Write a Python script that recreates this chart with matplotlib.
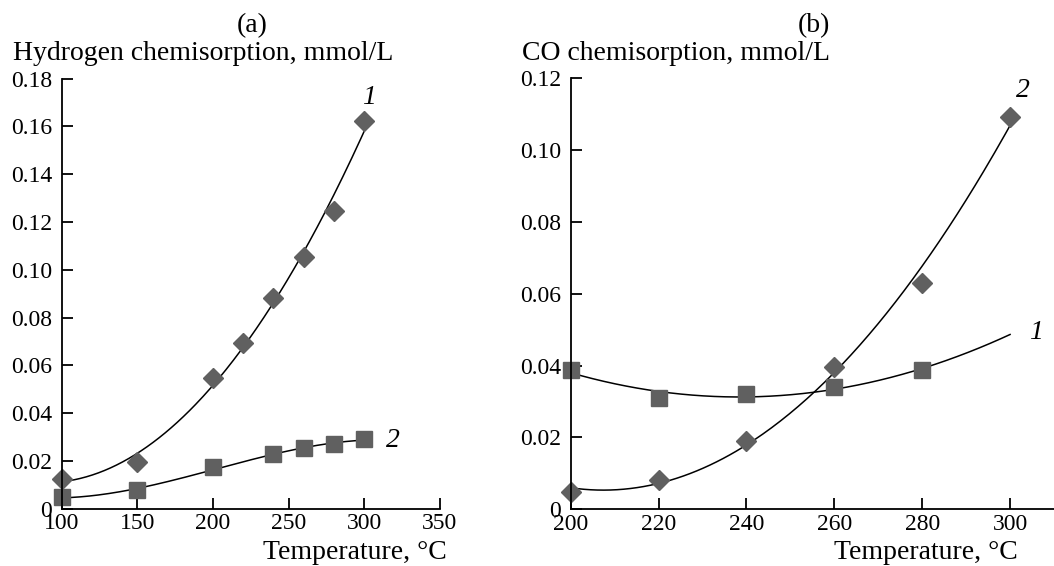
import numpy as np
import matplotlib
matplotlib.use("Agg")
import matplotlib.pyplot as plt

plt.rcParams['font.family'] = ['Liberation Serif', 'DejaVu Serif']
plt.rcParams['font.size'] = 17

# (a) водень
temp_a_1 = [100, 150, 200, 220, 240, 260, 280, 300]
h2_1 = [0.0123, 0.0197, 0.0546, 0.0695, 0.0883, 0.1055, 0.1246, 0.1624]
temp_a_2 = [100, 150, 200, 240, 260, 280, 300]
h2_2 = [0.0048, 0.0078, 0.0173, 0.0228, 0.0253, 0.0270, 0.0292]

# (b) CO
temp_b = [200, 220, 240, 260, 280, 300]
co_2 = [0.0049, 0.0083, 0.0190, 0.0395, 0.0628, 0.1091]
temp_b_1 = [200, 220, 240, 260, 280]
co_1 = [0.0387, 0.0311, 0.0320, 0.0341, 0.0387]

xticks_a = [100, 150, 200, 250, 300, 350]
yticks_a = [0, 0.02, 0.04, 0.06, 0.08, 0.10, 0.12, 0.14, 0.16, 0.18]
yticklabels_a = ['0', '0.02', '0.04', '0.06', '0.08', '0.10', '0.12', '0.14', '0.16', '0.18']
xticks_b = [200, 220, 240, 260, 280, 300]
yticks_b = [0, 0.02, 0.04, 0.06, 0.08, 0.10, 0.12]
yticklabels_b = ['0', '0.02', '0.04', '0.06', '0.08', '0.10', '0.12']

gray = '#606060'
big = 20


def trend(x, y, deg, x_end=None):
    # лінія тренду як у Excel
    c = np.polyfit(x, y, deg)
    xs = np.linspace(min(x), x_end if x_end else max(x), 200)
    return xs, np.polyval(c, xs)


def style(ax):
    for s in ['top', 'right']:
        ax.spines[s].set_visible(False)
    for s in ['left', 'bottom']:
        ax.spines[s].set_linewidth(1.3)
    ax.tick_params(direction='in', length=8, width=1.3)
    ax.tick_params(axis='y', pad=7)
    ax.tick_params(axis='x', pad=3)


fig = plt.figure(figsize=(10.54, 5.66), dpi=100)

# ---- (a)
ax1 = fig.add_axes([0.0588, 0.101, 0.3582, 0.760])
ax1.plot(*trend(temp_a_1, h2_1, 2), color='black', lw=1.1)
ax1.plot(*trend(temp_a_2, h2_2, 3), color='black', lw=1.1)
ax1.plot(temp_a_1, h2_1, 'D', color=gray, ms=10, clip_on=False)
ax1.plot(temp_a_2, h2_2, 's', color=gray, ms=12, clip_on=False)
ax1.set_xlim(100, 350)
ax1.set_ylim(0, 0.18)
ax1.set_xticks(xticks_a)
ax1.set_yticks(yticks_a)
ax1.set_yticklabels(yticklabels_a)
style(ax1)
ax1.text(303, 0.172, '1', style='italic', ha='center', va='center', fontsize=big)
ax1.text(319, 0.0285, '2', style='italic', ha='center', va='center', fontsize=big)
fig.text(0.239, 0.955, '(a)', ha='center', va='center', fontsize=big)
fig.text(0.012, 0.894, 'Hydrogen chemisorption, mmol/L', ha='left', va='baseline', fontsize=big)
fig.text(0.424, 0.002, 'Temperature, °C', ha='right', va='bottom', fontsize=big)

# ---- (b)
ax2 = fig.add_axes([0.5415, 0.100, 0.4585, 0.7627])
ax2.plot(*trend(temp_b, co_2, 2), color='black', lw=1.1)
ax2.plot(*trend(temp_b_1, co_1, 2, 300), color='black', lw=1.1)
ax2.plot(temp_b, co_2, 'D', color=gray, ms=10, clip_on=False)
ax2.plot(temp_b_1, co_1, 's', color=gray, ms=12, clip_on=False)
ax2.set_xlim(200, 310)
ax2.set_ylim(0, 0.12)
ax2.set_xticks(xticks_b)
ax2.set_yticks(yticks_b)
ax2.set_yticklabels(yticklabels_b)
style(ax2)
ax2.text(303, 0.1165, '2', style='italic', ha='center', va='center', fontsize=big)
ax2.text(305.8, 0.0493, '1', style='italic', ha='center', va='center', fontsize=big)
fig.text(0.772, 0.955, '(b)', ha='center', va='center', fontsize=big)
fig.text(0.495, 0.894, 'CO chemisorption, mmol/L', ha='left', va='baseline', fontsize=big)
fig.text(0.966, 0.002, 'Temperature, °C', ha='right', va='bottom', fontsize=big)

fig.savefig('out.png', dpi=100)
